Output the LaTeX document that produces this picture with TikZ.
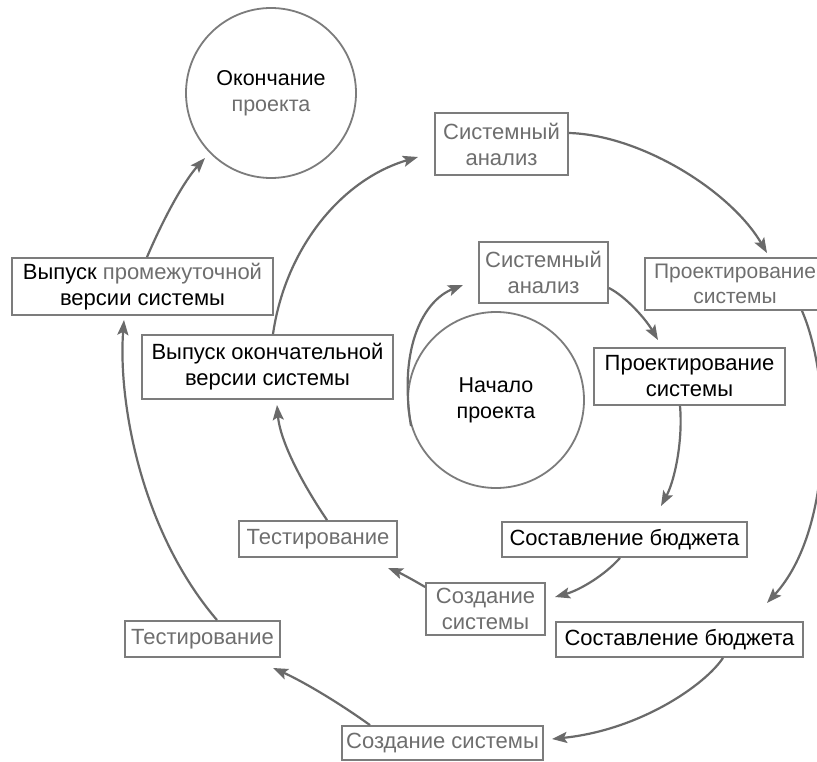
\documentclass[tikz,border=0pt]{standalone}
\usepackage{fontspec}
\setmainfont{Liberation Sans}
\usetikzlibrary{arrows.meta}
\definecolor{boxline}{HTML}{7C7C7C}
\definecolor{arrowcol}{HTML}{6A6A6A}
\definecolor{graytext}{HTML}{6E6E6E}
\tikzset{
  stagebox/.style={draw=boxline, line width=1.8pt, rectangle, align=center, inner sep=0pt,
    font=\fontsize{22}{26}\selectfont},
  roundnode/.style={draw=boxline, line width=1.8pt, circle, align=center, inner sep=0pt,
    font=\fontsize{21.5}{26}\selectfont},
  flow/.style={draw=arrowcol, line width=2.2pt,
    -{Stealth[length=15pt,width=11pt,inset=3pt]}},
  gtxt/.style={text=graytext}
}
\begin{document}
\begin{tikzpicture}[x=1pt,y=-1pt]
\useasboundingbox (0,0) rectangle (817,762);
\fill[white] (0,0) rectangle (817,762);

% circles
\node[roundnode, minimum size=170pt] (fin) at (271,93) {Окончание\\\textcolor{graytext}{проекта}};
\node[roundnode, minimum size=176pt] (start) at (496,400) {Начало\\проекта};

% outer loop
\node[stagebox, gtxt, minimum width=133pt, minimum height=62pt] (sa1) at (501.5,144) {Системный\\анализ};
\node[stagebox, gtxt, font=\fontsize{21}{25}\selectfont, minimum width=180pt, minimum height=52pt] (pr1) at (735,284) {Проектирование\\системы};
\node[stagebox, minimum width=247pt, minimum height=35pt] (bu1) at (679.5,639.5) {Составление бюджета};
\node[stagebox, gtxt, minimum width=201pt, minimum height=34pt] (cr1) at (442.5,743) {Создание системы};
\node[stagebox, gtxt, minimum width=155pt, minimum height=36pt] (te1) at (202.5,639) {Тестирование};
\node[stagebox, minimum width=261pt, minimum height=57pt] (vp) at (142.5,286.5) {Выпуск \textcolor{graytext}{промежуточной}\\версии системы};

% inner loop
\node[stagebox, gtxt, minimum width=129pt, minimum height=61pt] (sa2) at (543.5,272.5) {Системный\\анализ};
\node[stagebox, minimum width=191pt, minimum height=57pt] (pr2) at (689.5,376.5) {Проектирование\\системы};
\node[stagebox, minimum width=245pt, minimum height=35pt] (bu2) at (624.5,539.5) {Составление бюджета};
\node[stagebox, gtxt, minimum width=119pt, minimum height=52pt] (cr2) at (485.5,609) {Создание\\системы};
\node[stagebox, gtxt, minimum width=158pt, minimum height=36pt] (te2) at (318,539) {Тестирование};
\node[stagebox, minimum width=251pt, minimum height=64pt] (vo) at (267.5,367) {Выпуск окончательной\\версии системы};

% arrow tip coordinates
\coordinate (t1) at (205,158);
\coordinate (t2) at (418,157);
\coordinate (t3) at (767,253);
\coordinate (t4) at (767,603);
\coordinate (t5) at (552,739);
\coordinate (t6) at (273,668);
\coordinate (t7) at (124,320);
\coordinate (t8) at (463,285);
\coordinate (t9) at (658,340);
\coordinate (t10) at (661,506);
\coordinate (t11) at (555,597);
\coordinate (t12) at (388,568);
\coordinate (t13) at (277,405);

% outer connectors
\draw[flow] ([xshift=4.5pt]vp.north) .. controls (165,215) and (185,180) .. (t1);
\draw[flow] ([xshift=5.5pt]vo.north) .. controls (285,250) and (340,180) .. (t2);
\draw[flow] ([yshift=11pt]sa1.east) .. controls (640,135) and (730,190) .. (t3);
\draw[flow] ([xshift=67pt]pr1.south) .. controls (832,380) and (834,530) .. (t4);
\draw[flow] ([xshift=43.5pt]bu1.south) .. controls (705,685) and (640,730) .. (t5);
\draw[flow] ([xshift=-72.5pt]cr1.north) .. controls (335,700) and (300,680) .. (t6);
\draw[flow] ([xshift=14.5pt]te1.north) .. controls (140,530) and (118,400) .. (t7);

% inner connectors
\draw[flow] (start.197) .. controls (398,345) and (425,300) .. (t8);
\draw[flow] ([yshift=-15.5pt]sa2.east) .. controls (625,296) and (645,318) .. (t9);
\draw[flow] ([xshift=-9.5pt]pr2.south) .. controls (683,440) and (675,480) .. (t10);
\draw[flow] ([xshift=-4.5pt]bu2.south) .. controls (605,575) and (580,590) .. (t11);
\draw[flow] ([yshift=22pt]cr2.west) .. controls (410,578) and (398,572) .. (t12);
\draw[flow] ([xshift=9pt]te2.north) .. controls (300,480) and (280,440) .. (t13);
\end{tikzpicture}
\end{document}
